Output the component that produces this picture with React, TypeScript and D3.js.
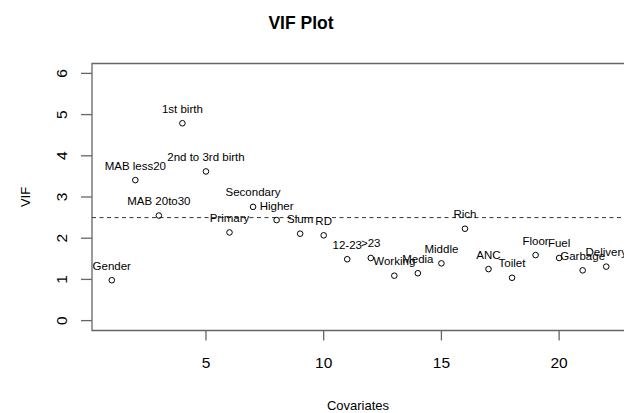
import React from 'react';
import * as d3 from 'd3';

const covariates = [
    'Gender', 'MAB less20', 'MAB 20to30', '1st birth', '2nd to 3rd birth',
    'Primary', 'Secondary', 'Higher', 'Slum', 'RD', '12-23', '>23',
    'Working', 'Media', 'Middle', 'Rich', 'ANC', 'Toilet', 'Floor',
    'Fuel', 'Garbage', 'Delivery',
];
const vifValues = [
    0.98, 3.41, 2.55, 4.79, 3.62, 2.14, 2.76, 2.44, 2.11, 2.07, 1.49, 1.52,
    1.09, 1.15, 1.39, 2.23, 1.25, 1.04, 1.59, 1.52, 1.22, 1.31,
];
const xTicks = [5, 10, 15, 20];
const yTicks = [0, 1, 2, 3, 4, 5, 6];
const cutoff = 2.5;

const W = 624;
const H = 413;
const plot = { left: 92, right: 626, top: 63.5, bottom: 330.5 };

const App: React.FC = () => {
    const n = vifValues.length;
    // R style: 4% padding around data range
    const xPad = (n - 1) * 0.04;
    const x = d3.scaleLinear()
        .domain([1 - xPad, n + xPad])
        .range([plot.left, plot.right]);
    const y = d3.scaleLinear()
        .domain([-0.24, 6.24])
        .range([plot.bottom, plot.top]);

    const axisColor = '#666';
    const font = 'Liberation Sans, Arial, Helvetica, sans-serif';

    return (
        <svg width={W} height={H} style={{ position: 'absolute', left: 0, top: 0, background: '#fff' }}
            fontFamily={font}>
            {/* title */}
            <text x={301} y={29} textAnchor="middle" fontSize={17.5} fontWeight="bold" fill="#000">VIF Plot</text>

            {/* box (right side falls outside the picture) */}
            <path d={`M${plot.right},${plot.top}H${plot.left}V${plot.bottom}H${plot.right}`}
                fill="none" stroke={axisColor} strokeWidth={1.3} />

            {/* cutoff line */}
            <line x1={plot.left} x2={W} y1={y(cutoff)} y2={y(cutoff)}
                stroke="#333" strokeWidth={1} strokeDasharray="4,3.5" />

            {/* x axis */}
            {xTicks.map(t => (
                <g key={`x${t}`}>
                    <line x1={x(t)} x2={x(t)} y1={plot.bottom} y2={plot.bottom + 10} stroke={axisColor} strokeWidth={1.3} />
                    <text x={x(t)} y={368} textAnchor="middle" fontSize={15.5} fill="#000">{t}</text>
                </g>
            ))}
            <text x={358} y={410} textAnchor="middle" fontSize={13} fill="#000">Covariates</text>

            {/* y axis */}
            {yTicks.map(t => (
                <g key={`y${t}`}>
                    <line x1={plot.left - 11} x2={plot.left} y1={y(t)} y2={y(t)} stroke={axisColor} strokeWidth={1.3} />
                    <text transform={`translate(67,${y(t)}) rotate(-90)`} textAnchor="middle" fontSize={15.5} fill="#000">{t}</text>
                </g>
            ))}
            <text transform={`translate(30,${y(3)}) rotate(-90)`} textAnchor="middle" fontSize={13} fill="#000">VIF</text>

            {/* points and labels */}
            {vifValues.map((v, i) => (
                <g key={covariates[i]}>
                    <circle cx={x(i + 1)} cy={y(v)} r={2.8} fill="none" stroke="#000" strokeWidth={1} />
                    <text x={x(i + 1)} y={y(v) - 10.5} textAnchor="middle" fontSize={11.5} fill="#000">{covariates[i]}</text>
                </g>
            ))}
        </svg>
    );
};

export default App;
